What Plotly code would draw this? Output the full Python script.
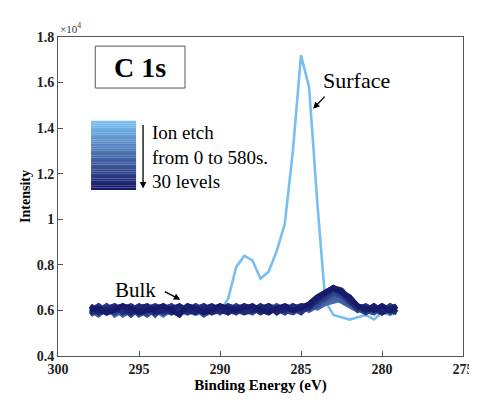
import plotly.graph_objects as go

energy = [298.0 - 0.5 * i for i in range(38)] + [279.1]  # 298 .. 279.1 eV

surface = [0.59,0.60,0.58,0.60,0.59,0.60,0.58,0.59,0.60,0.58,0.59,0.60,0.59,0.58,0.59,0.60,
           0.60,0.65,0.79,0.84,0.82,0.74,0.77,0.86,0.98,1.30,1.72,1.58,1.08,0.64,0.58,0.57,
           0.56,0.57,0.58,0.56,0.59,0.58,0.59]

bulk = [
 [0.61,0.59,0.62,0.58,0.60,0.61,0.59,0.62,0.60,0.58,0.61,0.60,0.62,0.59,0.61,0.60,0.62,0.59,0.61,0.60,0.62,0.59,0.61,0.60,0.62,0.60,0.61,0.62,0.61,0.63,0.64,0.65,0.63,0.61,0.60,0.59,0.61,0.60,0.61],
 [0.59,0.62,0.60,0.61,0.58,0.60,0.62,0.59,0.61,0.60,0.59,0.62,0.60,0.61,0.59,0.62,0.60,0.61,0.59,0.62,0.60,0.61,0.59,0.62,0.60,0.61,0.62,0.60,0.62,0.64,0.66,0.64,0.62,0.60,0.61,0.60,0.59,0.61,0.60],
 [0.60,0.58,0.61,0.60,0.62,0.59,0.60,0.61,0.58,0.62,0.60,0.59,0.61,0.60,0.62,0.59,0.61,0.60,0.62,0.60,0.59,0.62,0.60,0.61,0.59,0.62,0.60,0.61,0.63,0.65,0.67,0.66,0.64,0.61,0.59,0.61,0.60,0.62,0.59],
 [0.62,0.60,0.59,0.62,0.60,0.61,0.58,0.60,0.62,0.61,0.59,0.60,0.62,0.61,0.58,0.60,0.62,0.61,0.60,0.59,0.62,0.60,0.62,0.59,0.61,0.60,0.62,0.61,0.62,0.66,0.68,0.66,0.63,0.62,0.60,0.59,0.62,0.60,0.61],
 [0.58,0.61,0.60,0.59,0.61,0.62,0.60,0.58,0.61,0.60,0.62,0.59,0.60,0.62,0.60,0.61,0.59,0.62,0.60,0.61,0.59,0.61,0.60,0.62,0.60,0.59,0.61,0.62,0.63,0.65,0.68,0.67,0.64,0.60,0.62,0.60,0.61,0.59,0.62],
 [0.61,0.60,0.62,0.59,0.61,0.58,0.61,0.60,0.59,0.61,0.62,0.60,0.59,0.61,0.62,0.60,0.61,0.59,0.62,0.60,0.61,0.60,0.62,0.61,0.59,0.62,0.60,0.62,0.64,0.66,0.69,0.67,0.64,0.61,0.59,0.62,0.60,0.61,0.60],
 [0.60,0.62,0.59,0.61,0.60,0.62,0.60,0.61,0.62,0.59,0.60,0.61,0.59,0.62,0.60,0.61,0.62,0.60,0.59,0.62,0.61,0.59,0.61,0.60,0.62,0.61,0.59,0.62,0.64,0.67,0.69,0.68,0.65,0.62,0.60,0.61,0.59,0.62,0.61],
 [0.59,0.60,0.61,0.62,0.59,0.60,0.62,0.61,0.60,0.62,0.59,0.61,0.60,0.60,0.62,0.59,0.60,0.62,0.61,0.59,0.60,0.62,0.60,0.61,0.60,0.62,0.61,0.61,0.65,0.67,0.70,0.68,0.64,0.61,0.62,0.60,0.62,0.60,0.59],
 [0.62,0.59,0.60,0.61,0.62,0.59,0.61,0.62,0.59,0.60,0.61,0.62,0.60,0.59,0.61,0.62,0.60,0.59,0.61,0.62,0.60,0.61,0.62,0.59,0.61,0.60,0.62,0.62,0.65,0.68,0.70,0.69,0.65,0.62,0.60,0.62,0.59,0.61,0.62],
 [0.60,0.61,0.59,0.60,0.62,0.61,0.59,0.60,0.61,0.62,0.60,0.58,0.62,0.61,0.59,0.60,0.62,0.61,0.60,0.61,0.62,0.60,0.59,0.61,0.62,0.60,0.61,0.63,0.66,0.68,0.70,0.68,0.66,0.62,0.61,0.60,0.62,0.60,0.61],
]

yticks = [0.4, 0.6, 0.8, 1.0, 1.2, 1.4, 1.6, 1.8]
ytick_text = ["0.4", "0.6", "0.8", "1", "1.2", "1.4", "1.6", "1.8"]
xticks = [300, 295, 290, 285, 280, 275]

light = (120, 190, 240)
dark = (22, 26, 105)
def shade(t):
    return "rgb(%d,%d,%d)" % tuple(round(a + (b - a) * t) for a, b in zip(light, dark))

fig = go.Figure()
fig.add_trace(go.Scatter(x=energy, y=surface, mode="lines",
                         line=dict(color=shade(0), width=2.6), showlegend=False))
n = len(bulk)
for i, row in enumerate(bulk):
    fig.add_trace(go.Scatter(x=energy, y=row, mode="lines",
                             line=dict(color=shade(0.45 + 0.55 * (i + 1) / n), width=5),
                             showlegend=False))

shapes = []
levels = 30
y_top, y_bot = 1.432, 1.129
for k in range(levels):
    y0 = y_top - (y_top - y_bot) * k / levels
    y1 = y_top - (y_top - y_bot) * (k + 1) / levels
    shapes.append(dict(type="rect", xref="x", yref="y", x0=297.96, x1=295.18, y0=y1, y1=y0,
                       fillcolor=shade(k / (levels - 1)), line=dict(width=0)))
shapes.append(dict(type="rect", xref="x", yref="y", x0=297.7, x1=292.16, y0=1.576, y1=1.76,
                   line=dict(color="#555", width=1), fillcolor="white"))

serif = "Liberation Serif, Times New Roman, serif"
ann = [
    dict(x=294.93, y=1.668, text="<b>C 1s</b>", showarrow=False, font=dict(family=serif, size=28, color="black")),
    dict(x=294.35, y=1.275, xanchor="left", text="Ion etch<br>from 0 to 580s.<br>30 levels", showarrow=False,
         align="left", font=dict(family=serif, size=19, color="black")),
    dict(x=294.75, y=1.135, ax=294.75, ay=1.42, xref="x", yref="y", axref="x", ayref="y", text="",
         showarrow=True, arrowhead=2, arrowsize=1, arrowwidth=1.3, arrowcolor="black"),
    dict(x=281.6, y=1.61, text="Surface", showarrow=False, font=dict(family=serif, size=22, color="black")),
    dict(x=284.25, y=1.485, ax=283.45, ay=1.545, xref="x", yref="y", axref="x", ayref="y", text="",
         showarrow=True, arrowhead=2, arrowsize=1, arrowwidth=1.3, arrowcolor="black"),
    dict(x=295.2, y=0.69, text="Bulk", showarrow=False, font=dict(family=serif, size=21, color="black")),
    dict(x=292.45, y=0.647, ax=293.5, ay=0.686, xref="x", yref="y", axref="x", ayref="y", text="",
         showarrow=True, arrowhead=2, arrowsize=1, arrowwidth=1.3, arrowcolor="black"),
    dict(x=0, y=1.0, xref="paper", yref="paper", xanchor="left", yanchor="bottom",
         text="\u00d710<sup>4</sup>", showarrow=False, font=dict(family=serif, size=11, color="#333")),
]

axis_common = dict(showline=True, mirror=True, linecolor="#555", linewidth=1, ticks="inside",
                   ticklen=5, tickcolor="#555", showgrid=False, zeroline=False,
                   tickfont=dict(family=serif, size=14, color="#222"))
fig.update_layout(
    width=477, height=400, margin=dict(l=50, r=22, t=29, b=52),
    plot_bgcolor="white", paper_bgcolor="white", shapes=shapes, annotations=ann,
    xaxis=dict(range=[300, 275], tickvals=xticks, ticktext=[f"<b>{v}</b>" for v in xticks],
               title=dict(text="<b>Binding Energy (eV)</b>", font=dict(family=serif, size=15, color="black"), standoff=2),
               **axis_common),
    yaxis=dict(range=[0.4, 1.8], tickvals=yticks, ticktext=[f"<b>{t}</b>" for t in ytick_text],
               title=dict(text="<b>Intensity</b>", font=dict(family=serif, size=14, color="black"), standoff=2),
               **axis_common),
)
fig.write_html("out.html")
